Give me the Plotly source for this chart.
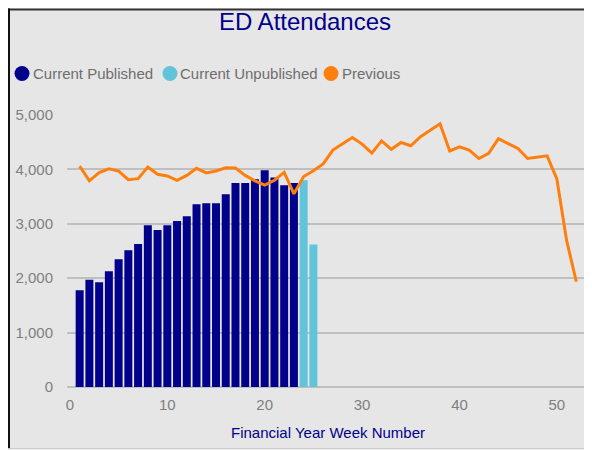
import plotly.graph_objects as go

# --- dados ---
series_names = ["Current Published", "Current Unpublished", "Previous"]
series_colors = ["#00008B", "#62C4DA", "#FF7F0E"]

weeks_published = list(range(1, 24))
current_published = [1780, 1970, 1925, 2130, 2350, 2515, 2630, 2975, 2885, 2975,
                     3050, 3140, 3360, 3380, 3380, 3545, 3750, 3750, 3820, 3985,
                     3850, 3710, 3750]

weeks_unpublished = [24, 25]
current_unpublished = [3800, 2620]

weeks_previous = list(range(1, 53))
previous = [4060, 3790, 3940, 4010, 3970, 3810, 3830, 4045, 3910, 3880,
            3800, 3890, 4020, 3935, 3970, 4030, 4025, 3890, 3790, 3710,
            3800, 3945, 3550, 3870, 3975, 4100, 4355, 4475, 4585, 4465,
            4300, 4525, 4370, 4495, 4435, 4600, 4720, 4840, 4340, 4415,
            4355, 4200, 4295, 4565, 4475, 4385, 4200, 4230, 4250, 3825,
            2695, 1935]

x_ticks = [0, 10, 20, 30, 40, 50]
y_ticks = [0, 1000, 2000, 3000, 4000, 5000]

FONT = "Liberation Sans, Arial, sans-serif"
OFF = 8  # margem do body da página
W, H = 592 - OFF, 450 - OFF
L, R, T, B = 67 - OFF, 3, 114.5 - OFF, 63.3
PW = W - L - R
PH = H - T - B


def px_x(px):
    # px = posição na página
    return (px - OFF - L) / PW


def px_y(py):
    return (H - B - (py - OFF)) / PH


fig = go.Figure()
fig.add_trace(go.Bar(x=weeks_published, y=current_published, width=0.82,
                     marker=dict(color=series_colors[0], line=dict(width=0)),
                     name=series_names[0], showlegend=False))
fig.add_trace(go.Bar(x=weeks_unpublished, y=current_unpublished, width=0.82,
                     marker=dict(color=series_colors[1], line=dict(width=0)),
                     name=series_names[1], showlegend=False))
fig.add_trace(go.Scatter(x=weeks_previous, y=previous, mode="lines",
                         line=dict(color=series_colors[2], width=3),
                         name=series_names[2], showlegend=False))

# fundo cinza com bordas
shapes = [
    dict(type="rect", xref="paper", yref="paper", layer="below",
         x0=px_x(8), x1=px_x(620), y0=px_y(448), y1=px_y(8),
         fillcolor="#E6E6E6", line=dict(width=0)),
    dict(type="line", xref="paper", yref="paper", layer="below",
         x0=px_x(8), x1=px_x(620), y0=px_y(9), y1=px_y(9),
         line=dict(color="#333333", width=2)),
    dict(type="line", xref="paper", yref="paper", layer="below",
         x0=px_x(9), x1=px_x(9), y0=px_y(448), y1=px_y(8),
         line=dict(color="#111111", width=2)),
    dict(type="line", xref="paper", yref="paper", layer="below",
         x0=px_x(8), x1=px_x(620), y0=px_y(448.5), y1=px_y(448.5),
         line=dict(color="#BBBBBB", width=1)),
]

# legenda manual (círculos + texto)
legend_circle_x = [22, 170, 331]
legend_text_x = [31, 178, 340]
annotations = []
for name, color, cx, tx in zip(series_names, series_colors, legend_circle_x, legend_text_x):
    shapes.append(dict(type="circle", xref="paper", yref="paper",
                       xsizemode="pixel", ysizemode="pixel",
                       xanchor=px_x(cx), yanchor=px_y(73),
                       x0=-7.5, x1=7.5, y0=-7.5, y1=7.5,
                       fillcolor=color, line=dict(width=0)))
    annotations.append(dict(text=name, xref="paper", yref="paper",
                            x=px_x(tx), y=px_y(73), xanchor="left", yanchor="middle",
                            showarrow=False, font=dict(family=FONT, size=15, color="#6E6E6E")))

fig.update_layout(
    width=W, height=H,
    margin=dict(l=L, r=R, t=T, b=B),
    paper_bgcolor="white",
    plot_bgcolor="rgba(0,0,0,0)",
    barmode="overlay",
    title=dict(text="ED Attendances", x=(305 - OFF) / W, xanchor="center",
               y=1 - (22 - OFF) / H, yanchor="middle", yref="container",
               font=dict(family=FONT, size=24, color="#00008B")),
    shapes=shapes,
    annotations=annotations,
    xaxis=dict(range=[-0.3, 53.3], tickvals=x_ticks, showgrid=False,
               zeroline=False, showline=False, ticks="",
               tickfont=dict(family=FONT, size=15, color="#7F7F7F"),
               ticklabelstandoff=7,
               title=dict(text="Financial Year Week Number", standoff=15,
                          font=dict(family=FONT, size=15, color="#00008B"))),
    yaxis=dict(range=[0, 5000], tickvals=y_ticks, tickformat=",",
               showgrid=True, gridcolor="#BFBFBF", gridwidth=2,
               zeroline=True, zerolinecolor="#BFBFBF", zerolinewidth=2,
               showline=False, ticks="", ticklabelstandoff=13,
               tickfont=dict(family=FONT, size=15, color="#7F7F7F")),
)

fig.write_html("out.html")
